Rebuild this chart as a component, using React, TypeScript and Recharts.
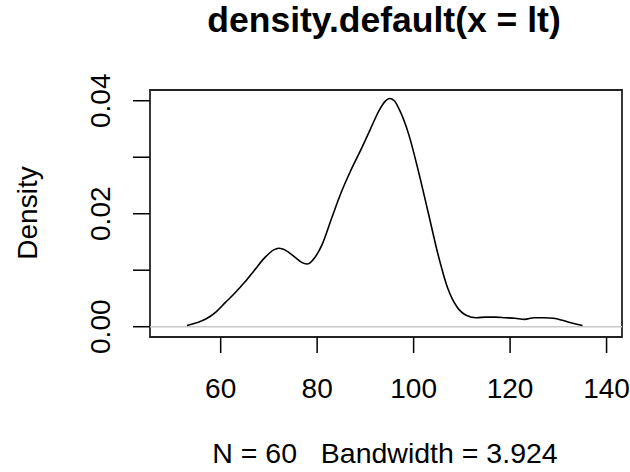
import React from "react";
import {
  LineChart,
  Line,
  XAxis,
  YAxis,
  ReferenceLine,
  ReferenceArea,
} from "recharts";

// density estimate
const xValues = [
  53, 55, 57, 59, 61, 63, 65, 67, 69, 71, 72, 73, 75, 77, 78, 79, 81, 83, 85,
  87, 89, 91, 93, 94, 95, 96, 97, 99, 101, 103, 105, 107, 109, 111, 113, 115,
  117, 119, 121, 123, 125, 127, 129, 131, 133, 135,
];
const densityValues = [
  0.0002, 0.0007, 0.0014, 0.0026, 0.0043, 0.006, 0.0079, 0.01, 0.0121, 0.0136,
  0.0139, 0.0137, 0.0126, 0.0113, 0.0111, 0.0117, 0.0145, 0.0192, 0.0238,
  0.0277, 0.0312, 0.0349, 0.0385, 0.0398, 0.0404, 0.04, 0.0385, 0.034, 0.0275,
  0.0203, 0.013, 0.007, 0.0035, 0.002, 0.0016, 0.0017, 0.0017, 0.0016, 0.0015,
  0.0013, 0.0016, 0.0016, 0.0015, 0.0011, 0.0006, 0.0002,
];
const xTicks = [60, 80, 100, 120, 140];
const yTicks = [0, 0.01, 0.02, 0.03, 0.04];
const yLabelled = [0, 0.02, 0.04];

const X_DOMAIN: [number, number] = [45.35, 143.2];
const Y_DOMAIN: [number, number] = [-0.00182, 0.0419];

const data = xValues.map((x, i) => ({ x, y: densityValues[i] }));

const FONT = "Arial, 'Liberation Sans', sans-serif";

function YTick(props: any) {
  const { x, y, payload } = props;
  const v = payload.value as number;
  const show = yLabelled.some((t) => Math.abs(t - v) < 1e-9);
  if (!show) return null;
  return (
    <text
      x={x}
      y={y}
      transform={`rotate(-90, ${x}, ${y})`}
      textAnchor="middle"
      fontSize={28}
      fontFamily={FONT}
      fill="#000"
    >
      {v.toFixed(2)}
    </text>
  );
}

export default function App() {
  return (
    <div style={{ position: "absolute", left: 0, top: 0, background: "#fff" }}>
      <LineChart
        width={630}
        height={472}
        data={data}
        margin={{ top: 90, right: 8, bottom: 0, left: 0 }}
      >
        <XAxis
          dataKey="x"
          type="number"
          domain={X_DOMAIN}
          ticks={xTicks}
          allowDataOverflow
          height={135}
          tickSize={16}
          tickMargin={25}
          axisLine={false}
          tickLine={{ stroke: "#000", strokeWidth: 1.5 }}
          tick={{ fill: "#000", fontSize: 28, fontFamily: FONT }}
        />
        <YAxis
          type="number"
          domain={Y_DOMAIN}
          ticks={yTicks}
          allowDataOverflow
          width={150}
          tickSize={17}
          tickMargin={23}
          axisLine={false}
          tickLine={{ stroke: "#000", strokeWidth: 1.5 }}
          tick={<YTick />}
        />
        <ReferenceLine
          y={0}
          stroke="#c8c8c8"
          strokeWidth={1.5}
          ifOverflow="visible"
        />
        <ReferenceArea
          x1={X_DOMAIN[0]}
          x2={X_DOMAIN[1]}
          y1={Y_DOMAIN[0]}
          y2={Y_DOMAIN[1]}
          fill="none"
          fillOpacity={0}
          stroke="#222"
          strokeWidth={1.8}
          ifOverflow="visible"
        />
        <Line
          type="monotone"
          dataKey="y"
          stroke="#000"
          strokeWidth={1.6}
          dot={false}
          isAnimationActive={false}
        />
        <text
          x={384}
          y={32}
          textAnchor="middle"
          fontSize={35.5}
          fontWeight="bold"
          fontFamily={FONT}
          fill="#000"
        >
          density.default(x = lt)
        </text>
        <text
          x={385}
          y={463}
          textAnchor="middle"
          fontSize={28.5}
          fontFamily={FONT}
          fill="#000"
          style={{ whiteSpace: "pre" }}
        >
          {"N = 60   Bandwidth = 3.924"}
        </text>
        <text
          x={37}
          y={213}
          transform="rotate(-90, 37, 213)"
          textAnchor="middle"
          fontSize={28}
          fontFamily={FONT}
          fill="#000"
        >
          Density
        </text>
      </LineChart>
    </div>
  );
}
